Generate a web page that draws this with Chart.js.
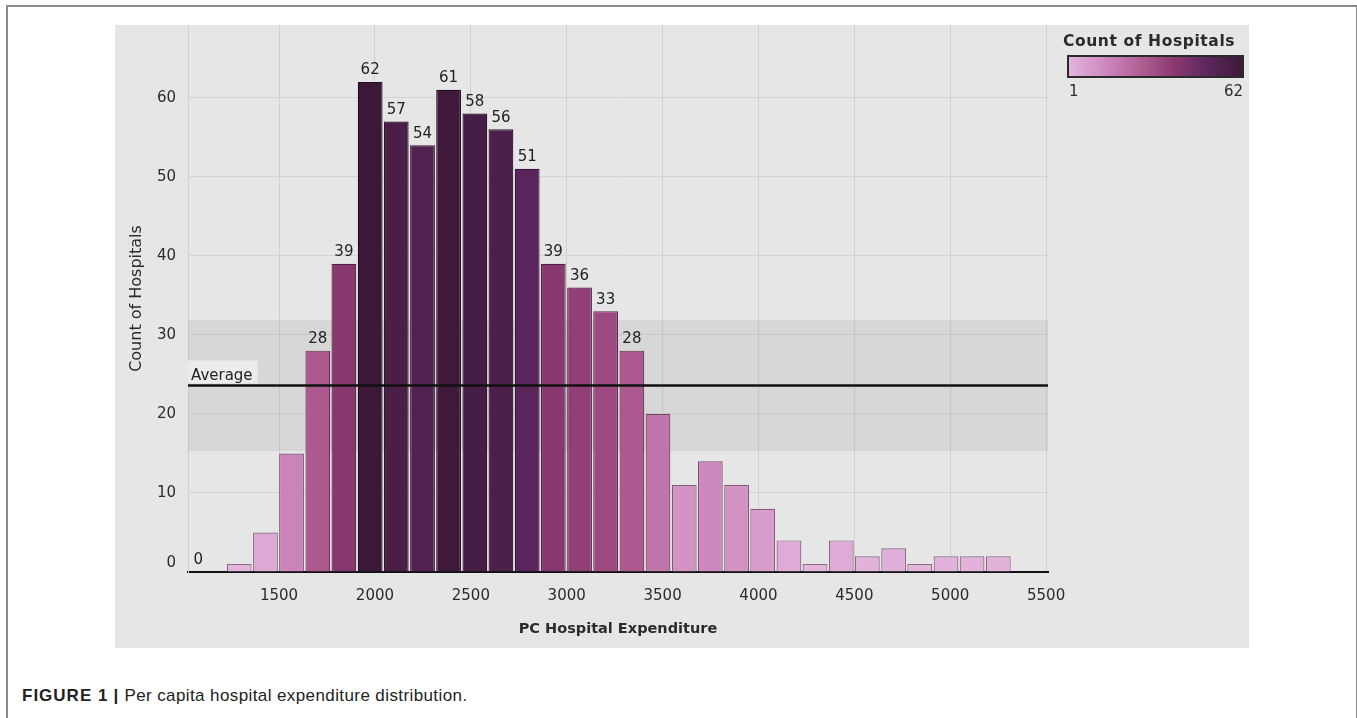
<!DOCTYPE html>
<html>
<head>
<meta charset="utf-8">
<script src="https://cdn.jsdelivr.net/npm/chart.js@4.4.0/dist/chart.umd.min.js"></script>
<style>
  html, body { margin: 0; padding: 0; background: #fff; width: 1357px; height: 718px; overflow: hidden; }
  #frame { position: absolute; left: 6px; top: 5px; width: 1348px; height: 730px; border: 2px solid #8a8a8a; border-bottom: none; }
  #panel { position: absolute; left: 115px; top: 25px; width: 1134px; height: 623px; background: #e6e6e6; }
  #caption { position: absolute; left: 22px; top: 686px; font-family: "Liberation Sans", Arial, sans-serif; font-size: 17px; letter-spacing: 0.4px; color: #222; }
  #caption b { font-weight: bold; letter-spacing: 1px; }
</style>
</head>
<body>
<div id="frame"></div>
<div id="panel"><canvas id="hist" width="1134" height="623"></canvas></div>
<div id="caption"><b>FIGURE 1</b> <b>|</b> Per capita hospital expenditure distribution.</div>
<script>
// bin centres (PC Hospital Expenditure) and hospital counts per bin
const binCenters = [1156, 1292, 1429, 1565, 1702, 1838, 1975, 2111, 2248, 2384, 2521, 2657, 2794, 2930, 3067, 3203,
    3340, 3476, 3613, 3749, 3886, 4022, 4159, 4295, 4432, 4568, 4705, 4841, 4978, 5114, 5251];
const counts = [0, 1, 5, 15, 28, 39, 62, 57, 54, 61, 58, 56, 51, 39, 36, 33,
    28, 20, 11, 14, 11, 8, 4, 1, 4, 2, 3, 1, 2, 2, 2];
// bins that carry a value label in the original
const labeledBins = [0, 4, 5, 6, 7, 8, 9, 10, 11, 12, 13, 14, 15, 16];
const xTicks = [1500, 2000, 2500, 3000, 3500, 4000, 4500, 5000, 5500];
const yTicks = [0, 10, 20, 30, 40, 50, 60];
const averageCount = 23.6;
const bandLow = 15.3;
const bandHigh = 31.9;
const legendMin = 1;
const legendMax = 62;

const FONT = '"DejaVu Sans", "Open Sans", sans-serif';
const TEXT = '#2b2b2b';

// colour ramp of the "Count of Hospitals" legend
const ramp = [
    [0.00, [228, 182, 222]],
    [0.25, [201, 128, 183]],
    [0.45, [170, 88, 140]],
    [0.60, [140, 58, 113]],
    [0.80, [92, 38, 94]],
    [0.90, [76, 32, 74]],
    [1.00, [60, 24, 56]]
];

function rampColor(v, k) {
    let t = (v - legendMin) / (legendMax - legendMin);
    t = Math.max(0, Math.min(1, t));
    let i = 0;
    while (i < ramp.length - 2 && t > ramp[i + 1][0]) i++;
    const [t0, c0] = ramp[i];
    const [t1, c1] = ramp[i + 1];
    const f = (t - t0) / (t1 - t0);
    const c = c0.map((x, j) => Math.round((x + (c1[j] - x) * f) * (k || 1)));
    return `rgb(${c[0]}, ${c[1]}, ${c[2]})`;
}

const extras = {
    id: 'extras',
    beforeDatasetsDraw(chart) {
        const { ctx, chartArea: a, scales: { y } } = chart;
        ctx.save();
        ctx.fillStyle = 'rgba(150, 150, 150, 0.18)';
        ctx.fillRect(a.left, y.getPixelForValue(bandHigh), a.right - a.left,
            y.getPixelForValue(bandLow) - y.getPixelForValue(bandHigh));
        ctx.restore();
    },
    afterDatasetsDraw(chart) {
        const { ctx, chartArea: a, scales: { y } } = chart;
        const bars = chart.getDatasetMeta(0).data;
        ctx.save();
        // value labels
        ctx.font = '15px ' + FONT;
        ctx.fillStyle = '#222';
        ctx.textAlign = 'center';
        ctx.textBaseline = 'bottom';
        labeledBins.forEach(i => {
            const b = bars[i];
            // the empty first bin keeps its label at the left edge
            const x = counts[i] === 0 ? b.x - b.width * 0.6 : b.x;
            ctx.fillText(String(counts[i]), x, b.y - 4);
        });
        // average line + label
        const ya = Math.round(y.getPixelForValue(averageCount)) + 0.5;
        ctx.fillStyle = '#ececec';
        const w = ctx.measureText('Average').width;
        ctx.fillRect(a.left, ya - 25, w + 8, 23);
        ctx.fillStyle = '#222';
        ctx.textAlign = 'left';
        ctx.textBaseline = 'alphabetic';
        ctx.fillText('Average', a.left + 3, ya - 6);
        ctx.strokeStyle = '#111';
        ctx.lineWidth = 2.5;
        ctx.beginPath();
        ctx.moveTo(a.left, ya);
        ctx.lineTo(a.right, ya);
        ctx.stroke();
        // zero tick label sits a bit above the baseline
        ctx.textAlign = 'right';
        ctx.textBaseline = 'middle';
        ctx.fillStyle = TEXT;
        ctx.fillText('0', a.left - 12, y.getPixelForValue(0) - 9);
        ctx.restore();
    },
    afterDraw(chart) {
        const { ctx, chartArea: a } = chart;
        const lx = a.right + 20;
        ctx.save();
        ctx.fillStyle = TEXT;
        ctx.font = 'bold 15.5px ' + FONT;
        ctx.letterSpacing = '0.6px';
        ctx.textBaseline = 'middle';
        ctx.fillText('Count of Hospitals', lx - 5, 17);
        ctx.letterSpacing = '0px';
        const bw = 175, bh = 21, by = 31;
        const g = ctx.createLinearGradient(lx, 0, lx + bw, 0);
        for (let s = 0; s <= 20; s++) {
            g.addColorStop(s / 20, rampColor(legendMin + (legendMax - legendMin) * s / 20));
        }
        ctx.fillStyle = g;
        ctx.fillRect(lx, by, bw, bh);
        ctx.strokeStyle = '#2a2a2a';
        ctx.lineWidth = 2;
        ctx.strokeRect(lx, by, bw, bh);
        ctx.fillStyle = TEXT;
        ctx.font = '15px ' + FONT;
        ctx.textAlign = 'left';
        ctx.fillText(String(legendMin), lx + 1, by + bh + 15);
        ctx.textAlign = 'right';
        ctx.fillText(String(legendMax), lx + bw, by + bh + 15);
        ctx.restore();
    }
};

new Chart(document.getElementById('hist'), {
    type: 'bar',
    data: {
        datasets: [{
            data: binCenters.map((x, i) => ({ x: x, y: counts[i] })),
            backgroundColor: counts.map(v => rampColor(v)),
            borderColor: counts.map(v => rampColor(v, 0.6)),
            borderWidth: { top: 1.2, left: 1.2, right: 1.2, bottom: 0 },
            borderSkipped: 'bottom',
            barPercentage: 0.95,
            categoryPercentage: 1
        }]
    },
    options: {
        responsive: false,
        animation: false,
        events: [],
        layout: { padding: { top: 0, left: 0, right: 201, bottom: 0 } },
        plugins: { legend: { display: false }, tooltip: { enabled: false } },
        scales: {
            x: {
                type: 'linear',
                offset: false,
                min: 1025,
                max: 5510,
                afterBuildTicks: s => { s.ticks = xTicks.map(v => ({ value: v })); },
                afterFit: s => { s.height = 76; s.paddingLeft = 0; s.paddingRight = 0; },
                grid: { color: '#d0d0d0', drawTicks: false, offset: false },
                border: { color: '#111', width: 2 },
                ticks: { padding: 15, color: TEXT, font: { family: FONT, size: 15 }, maxRotation: 0, callback: v => v },
                title: { display: true, text: 'PC Hospital Expenditure', color: TEXT,
                    font: { family: FONT, size: 14.5, weight: 'bold' }, padding: { top: 0, bottom: 10 } }
            },
            y: {
                min: 0,
                max: 69.2,
                afterBuildTicks: s => { s.ticks = yTicks.map(v => ({ value: v })); },
                afterFit: s => { s.width = 73; s.paddingTop = 0; s.paddingBottom = 0; },
                grid: { color: '#d4d4d4', drawTicks: false },
                border: { color: '#d0d0d0' },
                ticks: { padding: 12, color: TEXT, font: { family: FONT, size: 15 }, callback: v => v === 0 ? '' : v },
                title: { display: true, text: 'Count of Hospitals', color: TEXT,
                    font: { family: FONT, size: 16 }, padding: { top: 12, bottom: 0 } }
            }
        }
    },
    plugins: [extras]
});
</script>
</body>
</html>
